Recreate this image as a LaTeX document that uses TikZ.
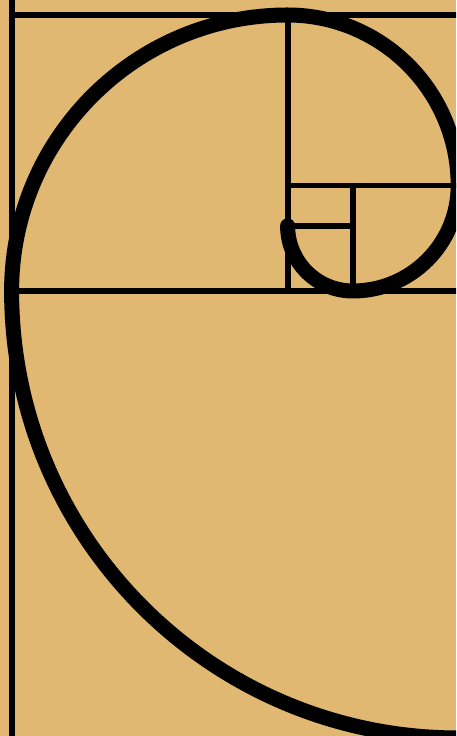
\documentclass[tikz,border=0pt]{standalone}
\definecolor{sand}{RGB}{224,184,114}
\begin{document}
\begin{tikzpicture}[x=1pt,y=1pt,line cap=round,line join=round]
  \def\R{276}
  \fill[sand] (0,0) rectangle (456,736);
  \useasboundingbox (0,0) rectangle (456,736);
  \clip (0,0) rectangle (456,736);
  \coordinate (A) at (12,445); \coordinate (B) at (288,445);
  \coordinate (C) at (288,721); \coordinate (D) at (353.2,445);
  \coordinate (E) at (288,550.4); \coordinate (F) at (288,510.1);
  \draw[line width=5.5] (12,-10)--(12,750);
  \draw[line width=5.5] (A|-C)--(470,721);
  \draw[line width=5.5] (A)--(470,445);
  \draw[line width=5.5] (B)--(C);
  \draw[line width=5.5] (E)--(470,550.4);
  \draw[line width=5.5] (D)--(D|-E);
  \draw[line width=5.5] (F)--(F-|D);
  \draw[line width=15] (458.6,-2) arc[start angle=270,end angle=180,radius=447]
    arc[start angle=180,end angle=90,radius=\R]
    arc[start angle=90,end angle=0,radius=\R/1.618034]
    arc[start angle=0,end angle=-90,radius=\R/2.618034]
    arc[start angle=-90,end angle=-180,radius=\R/4.236068];
\end{tikzpicture}
\end{document}
